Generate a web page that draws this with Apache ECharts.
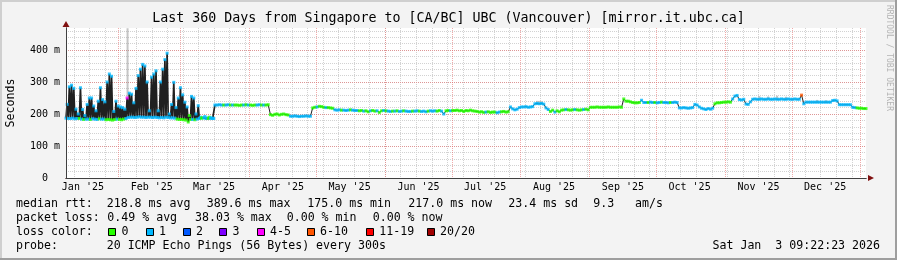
<!DOCTYPE html>
<html><head><meta charset="utf-8">
<script src="https://cdn.jsdelivr.net/npm/echarts@6/dist/echarts.min.js"></script>
<style>html,body{margin:0;padding:0;background:#f3f3f3}#c{width:897px;height:260px}</style>
</head><body><div id="c"></div><script>
// time unit: days since 2025-01-01 00:00
const START = 7.39;   // 2025-01-08 09:22
const END = 367.39;   // 2026-01-03 09:22
const monthNames = ["Jan '25","Feb '25","Mar '25","Apr '25","May '25","Jun '25","Jul '25","Aug '25","Sep '25","Oct '25","Nov '25","Dec '25"];
const monthStarts = [0,31,59,90,120,151,181,212,243,273,304,334,365];
const firstSunday = 11;

// early period (day 0..66 after START): daily low / high of the oscillating median (ms)
const earlyHigh = [
 230,285,290,280,215,200,282,214,195,230,
 250,250,225,210,240,282,245,238,300,325,
 318,208,240,225,222,220,215,250,265,262,
 235,280,320,340,355,350,300,210,315,325,
 335,210,300,340,370,390,200,230,299,220,
 250,282,260,237,222,195,255,250,200,226,
 190,188,192,188,190,188,186];
const earlyLow = [
 187,186,186,187,185,186,186,184,183,184,
 184,183,185,184,183,185,184,184,182,183,
 182,181,183,184,183,182,184,186,189,190,
 190,189,190,191,190,190,189,190,190,189,
 190,189,188,189,188,190,189,188,188,187,
 184,183,183,182,181,175,183,183,182,184,
 186,187,188,186,186,187,186];
const earlyLossLow = [
 1,1,1,1,1,1,0,1,0,1,
 1,0,1,1,1,0,1,1,0,0,
 0,0,0,1,0,0,0,1,1,1,
 1,1,1,1,1,1,1,1,1,1,
 1,1,1,1,1,1,1,1,1,1,
 0,0,0,0,0,0,0,1,0,1,
 1,0,1,1,0,1,1];
const earlyLossHigh = [
 1,1,1,1,1,1,1,1,1,1,
 1,1,1,1,1,1,1,1,1,1,
 1,1,1,1,1,1,1,4,1,1,
 1,1,1,1,1,1,1,1,1,1,
 1,1,1,1,1,1,1,1,1,1,
 1,1,1,1,1,0,1,1,1,1,
 1,0,1,1,0,1,1];

// late period: daily median from day 67 to day 360 after START (ms)
const lateMedian = [
 228,228,229,228,228,228,229,228,228,228,
 228,227,228,228,229,228,228,227,228,228,
 229,228,228,228,229,
 198,196,199,200,197,199,200,198,197,
 193,193,194,193,192,193,193,194,193,193,
 219,221,222,224,223,221,220,220,219,218,
 213,212,213,212,212,211,212,213,212,211,211,
 210,211,209,210,207,210,211,209,210,205,210,211,210,
 209,208,209,209,210,208,209,210,209,208,208,209,209,210,209,208,209,207,209,210,209,
 210,209,211,209,200,210,211,210,211,
 211,212,210,211,208,211,210,212,210,209,208,
 206,207,205,206,207,205,206,206,204,206,207,208,206,207,
 222,216,213,215,220,
 222,222,223,221,222,223,
 232,233,232,233,231,
 219,214,208,212,206,210,207,
 212,213,214,213,212,213,214,213,212,213,214,215,213,
 221,221,221,222,221,221,221,221,222,221,221,221,221,222,221,
 247,240,240,238,236,
 235,235,236,243,236,
 236,236,237,236,236,235,236,237,236,236,235,236,236,237,236,
 219,219,220,219,218,219,220,
 230,228,222,218,
 216,214,217,215,218,
 232,235,235,236,
 237,237,238,237,
 247,256,258,
 245,244,246,231,
 230,238,
 246,247,246,246,247,246,246,247,246,246,247,246,246,247,246,246,247,246,246,247,246,246,
 259,
 232,
 237,237,237,237,237,237,237,237,237,237,237,237,
 242,243,241,
 229,229,229,229,229,229,
 221,220,219,218,218,217,217];
const lateLoss = [
 1,1,1,1,0,1,1,0,1,0,
 0,0,0,1,0,1,0,0,0,1,
 1,0,1,0,0,
 0,0,0,0,0,0,0,0,0,
 1,1,1,1,1,1,1,1,1,1,
 0,0,1,0,0,0,1,0,0,0,
 1,1,1,0,1,1,1,0,1,1,1,
 0,0,1,0,0,1,0,0,1,0,0,1,0,
 1,1,0,1,0,1,1,0,1,1,1,0,1,1,0,1,1,1,0,1,1,
 1,0,0,1,1,0,0,1,0,
 0,0,0,0,0,0,0,0,0,0,0,
 0,0,0,1,0,0,0,0,1,1,0,0,0,0,
 1,1,1,1,1,
 1,1,1,1,1,1,
 1,1,1,1,1,
 1,1,0,0,1,0,0,
 0,0,1,0,0,0,1,0,0,0,1,0,0,
 0,0,0,0,0,0,0,0,0,0,0,0,0,0,0,
 0,0,0,0,0,
 0,0,0,1,1,
 1,0,1,1,0,1,1,0,1,1,1,0,1,1,1,
 1,1,1,1,1,1,1,
 1,1,1,1,
 1,1,1,1,1,
 0,0,0,0,
 0,0,0,0,
 1,1,1,
 1,1,1,1,
 1,1,
 1,1,1,1,1,1,1,1,1,1,1,1,1,1,1,1,1,1,1,1,1,1,
 5,
 1,
 1,1,1,1,1,1,1,1,1,1,1,1,
 1,1,1,
 1,1,1,1,1,1,
 1,1,0,0,0,0,0];

// smoke (ping spread) spots: [day after START, low ms, high ms]
const smoke = [
 [27.7,250,468],
 [212,228,241],[213,229,241],[214,229,240],
 [312,247,256],[316,247,255],[320,247,257],[324,247,254],
 [338,237,244],[342,237,243]];

const lossColors = ['#26ff00','#00b8ff','#0059ff','#7e00ff','#ff00ff','#ff5500','#ff0000','#a00000'];
const lossLabels = ['0','1','2','3','4-5','6-10','11-19','20/20'];

const titleText = 'Last 360 Days from Singapore to [CA/BC] UBC (Vancouver) [mirror.it.ubc.ca]';
const row1 = [[16,'median rtt:'],[106.7,'218.8 ms avg'],[206.7,'389.6 ms max'],[307.3,'175.0 ms min'],[408.3,'217.0 ms now'],[508.3,'23.4 ms sd'],[593.3,'9.3'],[635,'am/s']];
const row2 = [[16,'packet loss:'],[107.3,'0.49 % avg'],[195,'38.03 % max'],[286.7,'0.00 % min'],[372.7,'0.00 % now']];
const row3 = [[16,'loss color:']];
const boxX = [108.3,145.7,182.7,219.3,256.7,306.7,366,426.7];
const row4 = [[16,'probe:'],[106.7,'20 ICMP Echo Pings (56 Bytes) every 300s']];
const dateText = 'Sat Jan  3 09:22:23 2026';

// ---- build
const earlyPts = [], pts = [];
for (let i = 0; i < earlyHigh.length; i++) {
  pts.push([START + i, earlyLow[i], earlyLossLow[i]]);
  pts.push([START + i + 0.5, earlyHigh[i], earlyLossHigh[i]]);
}
const nEarly = pts.length;
for (let j = 0; j < lateMedian.length; j++) {
  pts.push([START + 67 + j, lateMedian[j], lateLoss[j]]);
}
const smokeData = smoke.map(s => [START + s[0], s[1], s[2]]);
const monthMids = monthStarts.slice(0, 12).map(s => s + 15);
const weeks = [];
for (let w = firstSunday; w < END; w += 7) weeks.push(w);

const MONO = '"DejaVu Sans Mono", monospace';
const G = {color: '#d2d2d2', type: 'dotted', width: 1};
const R = {color: 'rgba(230,100,100,0.55)', type: 'dotted', width: 1};
const hiddenX = (vals, ls, z) => ({type: 'value', min: START, max: END, position: 'bottom', z: z,
  axisLine: {show: false}, axisTick: {show: false, customValues: vals}, axisLabel: {show: false},
  splitLine: {show: true, lineStyle: ls}});
const hiddenY = (iv, ls, z) => ({type: 'value', min: 0, max: 468.75, interval: iv, position: 'left', z: z,
  axisLine: {show: false}, axisTick: {show: false}, axisLabel: {show: false},
  splitLine: {show: true, showMaxLine: false, lineStyle: ls}});

const graphic = [];
const addText = (x, y, t, extra) => graphic.push(Object.assign({type: 'text', x: x, y: y, silent: true,
  style: {text: t, font: '11.6px ' + MONO, fill: '#000', verticalAlign: 'middle'}}, extra || {}));
row1.forEach(r => addText(r[0], 203.5, r[1]));
row2.forEach(r => addText(r[0], 218.3, r[1]));
row3.forEach(r => addText(r[0], 232.3, r[1]));
row4.forEach(r => addText(r[0], 246, r[1]));
graphic.push({type: 'text', x: 880, y: 246, silent: true,
  style: {text: dateText, font: '11.6px ' + MONO, fill: '#000', align: 'right', verticalAlign: 'middle'}});
boxX.forEach((bx, i) => {
  graphic.push({type: 'rect', silent: true, shape: {x: Math.round(bx) + 0.5, y: 228.5, width: 7, height: 7},
    style: {fill: lossColors[i], stroke: '#000', lineWidth: 1}});
  addText(bx + 13.3, 232.3, lossLabels[i]);
});
graphic.push({type: 'text', x: 889, y: 5, rotation: -Math.PI / 2, silent: true,
  style: {text: 'RRDTOOL / TOBI OETIKER', font: '8px ' + MONO, fill: '#b4b4b4', align: 'left', verticalAlign: 'middle'}});
// 3D frame (rrdtool shades)
graphic.push({type: 'rect', silent: true, shape: {x: 0, y: 0, width: 897, height: 2}, style: {fill: '#cfcfcf'}});
graphic.push({type: 'rect', silent: true, shape: {x: 0, y: 0, width: 2, height: 260}, style: {fill: '#cfcfcf'}});
graphic.push({type: 'rect', silent: true, shape: {x: 0, y: 258, width: 897, height: 2}, style: {fill: '#9e9e9e'}});
graphic.push({type: 'rect', silent: true, shape: {x: 895, y: 0, width: 2, height: 260}, style: {fill: '#9e9e9e'}});

const chart = echarts.init(document.getElementById('c'), null, {renderer: 'canvas'});
chart.setOption({
  animation: false,
  backgroundColor: '#f3f3f3',
  title: {text: titleText, left: 'center', top: 12, padding: 0,
    textStyle: {fontFamily: MONO, fontSize: 13.3, fontWeight: 'normal', color: '#000'}},
  grid: {left: 66, top: 28, width: 800, height: 150, show: true, backgroundColor: '#ffffff', borderWidth: 0,
    containLabel: false, outerBoundsMode: 'none'},
  xAxis: [
    {type: 'value', min: START, max: END, position: 'bottom', z: 6,
      axisLine: {show: true, lineStyle: {color: '#404040', width: 1}},
      axisTick: {show: false, customValues: monthMids},
      axisLabel: {show: true, customValues: monthMids, margin: 4, fontFamily: MONO, fontSize: 10, color: '#000',
        formatter: v => { const k = monthMids.findIndex(m => Math.abs(m - v) < 0.01); return k >= 0 ? monthNames[k] : ''; }},
      splitLine: {show: false}},
    hiddenX(weeks, G, 1),
    hiddenX(monthStarts, R, 2),
    {type: 'value', min: START, max: END, position: 'bottom', z: 5,
      axisLine: {show: true, symbol: ['none', 'triangle'], symbolSize: [6, 6], symbolOffset: [0, 5], lineStyle: {color: '#801010', width: 1}},
      axisTick: {show: false}, axisLabel: {show: false}, splitLine: {show: false}}
  ],
  yAxis: [
    {type: 'value', min: 0, max: 468.75, interval: 100, position: 'left', z: 6,
      name: 'Seconds', nameLocation: 'middle', nameRotate: 90, nameGap: 49, nameMoveOverlap: false,
      nameTextStyle: {fontFamily: MONO, fontSize: 11.6, color: '#000'},
      axisLine: {show: true, lineStyle: {color: '#404040', width: 1}},
      axisTick: {show: false},
      axisLabel: {show: true, showMaxLabel: false, margin: 6, fontFamily: MONO, fontSize: 10, color: '#000',
        formatter: v => v === 0 ? '0  ' : v + ' m'},
      splitLine: {show: false}},
    hiddenY(20, G, 1),
    hiddenY(100, R, 2),
    {type: 'value', min: 0, max: 468.75, position: 'left', z: 5,
      axisLine: {show: true, symbol: ['none', 'triangle'], symbolSize: [7, 6], symbolOffset: [0, 4], lineStyle: {color: '#801010', width: 1}},
      axisTick: {show: false}, axisLabel: {show: false}, splitLine: {show: false}}
  ],
  series: [
    {type: 'custom', xAxisIndex: 0, yAxisIndex: 0, z: 3, silent: true, data: smokeData,
      encode: {x: 0, y: [1, 2]},
      renderItem: (params, api) => {
        const a = api.coord([api.value(0) - 0.45, api.value(2)]);
        const b = api.coord([api.value(0) + 0.45, api.value(1)]);
        return {type: 'rect', shape: {x: a[0], y: a[1], width: b[0] - a[0], height: b[1] - a[1]},
          style: {fill: 'rgba(150,150,150,0.55)'}};
      }},
    {type: 'line', xAxisIndex: 0, yAxisIndex: 0, z: 4, silent: true,
      data: pts.slice(0, nEarly + 1).map(p => [p[0], p[1]]),
      showSymbol: false, symbol: 'none', lineStyle: {color: '#202020', width: 1.7}},
    {type: 'line', xAxisIndex: 0, yAxisIndex: 0, z: 4, silent: true,
      data: pts.slice(nEarly).map(p => [p[0], p[1]]),
      showSymbol: false, symbol: 'none', lineStyle: {color: '#202020', width: 1}},
    {type: 'scatter', xAxisIndex: 0, yAxisIndex: 0, z: 4, silent: true, data: pts,
      symbol: 'rect', symbolSize: [3, 3],
      itemStyle: {color: p => lossColors[p.data[2]]}}
  ],
  graphic: graphic
});
</script></body></html>
